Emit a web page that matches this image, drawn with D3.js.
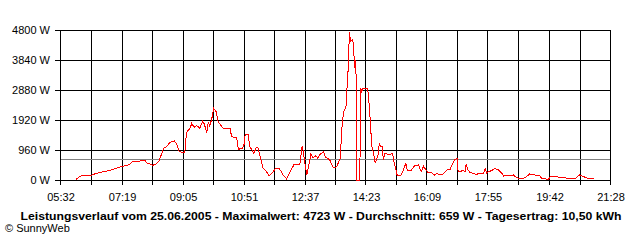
<!DOCTYPE html>
<html>
<head>
<meta charset="utf-8">
<script src="https://cdn.jsdelivr.net/npm/d3@7"></script>
<style>
body { margin: 0; background: #fff; }
text { font-family: "Liberation Sans", Arial, sans-serif; font-size: 11px; fill: #000; }
</style>
</head>
<body>
<svg id="chart" width="640" height="240"></svg>
<script>
var times = ["06:00","06:02","06:08","06:19","06:27","06:32","06:40","06:47","06:56","07:05",
    "07:13","07:19","07:28","07:34","07:38","07:51","08:00","08:03","08:08","08:13",
    "08:19","08:24","08:29","08:32","08:37","08:43","08:51","08:55","08:59","09:04",
    "09:09","09:11","09:13","09:18","09:21","09:25","09:30","09:35","09:40","09:43",
    "09:47","09:50","09:52","09:56","09:59","10:03","10:07","10:11","10:16","10:28",
    "10:30","10:39","10:42","10:49","10:52","10:54","10:59","11:02","11:06","11:09",
    "11:13","11:16","11:20","11:25","11:31","11:35","11:40","11:46","11:53","12:00",
    "12:06","12:12","12:19","12:29","12:33","12:35","12:38","12:41","12:44","12:48",
    "12:52","12:57","13:00","13:04","13:10","13:13","13:21","13:27","13:33","13:39",
    "13:43","13:46","13:49","13:51","13:53","13:55","13:57","14:00","14:02","14:04",
    "14:05","14:07","14:08","14:13","14:15","14:16","14:19","14:25","14:27","14:30",
    "14:32","14:34","14:37","14:40","14:43","14:45","14:47","14:49","14:52","14:54",
    "14:57","15:01","15:06","15:10","15:13","15:16","15:18","15:25","15:29","15:33",
    "15:36","15:42","15:48","15:55","16:00","16:04","16:08","16:12","16:18","16:23",
    "16:27","16:33","16:38","16:44","16:50","16:56","16:59","17:02","17:03","17:04",
    "17:09","17:11","17:16","17:18","17:21","17:25","17:30","17:36","17:39","17:48",
    "17:51","17:54","17:57","18:02","18:08","18:14","18:20","18:23","18:31","18:37",
    "18:40","18:43","18:49","18:57","19:03","19:08","19:15","19:26","19:29","19:41",
    "19:44","19:52","20:04","20:16","20:24","20:27","20:31","20:35","20:42","20:50",
    "21:00"];
var watts = [0,55,128,150,160,192,234,266,298,342,
    394,438,458,512,586,608,618,544,522,470,
    512,600,854,1014,1066,1206,1248,1142,928,886,
    886,1334,1546,1654,1814,1686,1738,1654,1888,1782,
    1514,1866,1706,1974,2294,2208,1866,1760,1654,1654,
    1386,1354,982,1014,1142,1462,1462,1066,960,854,
    1034,1034,746,374,266,138,202,352,374,160,
    32,266,502,502,1090,906,480,160,426,822,
    714,778,694,822,906,746,640,394,426,694,
    1930,2250,2304,2998,3584,4723,4438,4490,4384,3584,
    3840,3264,0,0,2944,2784,2944,2944,2890,2304,
    1664,1078,864,544,704,810,1184,1078,1078,650,
    864,832,822,854,534,320,160,160,320,534,
    298,298,448,480,266,448,320,234,234,160,
    214,160,192,320,342,586,662,694,640,266,
    266,320,266,512,320,234,214,170,214,214,
    374,214,266,298,374,320,214,128,160,128,
    160,106,54,54,106,192,170,128,54,20,
    106,106,86,54,54,32,106,160,106,54,
    32];
var xLabels = ["05:32","07:19","09:05","10:51","12:37","14:23","16:09","17:55","19:42","21:28"];
var yTicks = [0, 960, 1920, 2880, 3840, 4800];
var average = 659;
var title = "Leistungsverlauf vom 25.06.2005 - Maximalwert: 4723 W - Durchschnitt: 659 W - Tagesertrag: 10,50 kWh";
var credit = "\u00a9 SunnyWeb";

var parse = d3.timeParse("%H:%M");
var chart = d3.select("#chart");

var x = d3.scaleTime()
    .domain([parse(xLabels[0]), parse(xLabels[xLabels.length - 1])])
    .range([60, 610]);
var y = d3.scaleLinear().domain([0, 4800]).range([180, 30]);

// one grid line per label plus one half way between two labels
var gridTimes = [];
for (var i = 0; i < xLabels.length; i++) {
    var t = parse(xLabels[i]);
    gridTimes.push(t);
    if (i < xLabels.length - 1) {
        var t2 = parse(xLabels[i + 1]);
        gridTimes.push(new Date((t.getTime() + t2.getTime()) / 2));
    }
}

function px(v) { return Math.round(v) + 0.5; }

var grid = chart.append("g").attr("shape-rendering", "crispEdges");

grid.selectAll(".vline").data(gridTimes).enter().append("line")
    .attr("x1", function(d) { return px(x(d)); })
    .attr("x2", function(d) { return px(x(d)); })
    .attr("y1", 30)
    .attr("y2", 185)
    .style("stroke", "#000");

grid.selectAll(".hline").data(yTicks).enter().append("line")
    .attr("x1", 55)
    .attr("x2", 611)
    .attr("y1", function(d) { return px(y(d)); })
    .attr("y2", function(d) { return px(y(d)); })
    .style("stroke", "#000");

// average line
grid.append("line")
    .attr("x1", 61)
    .attr("x2", 610)
    .attr("y1", px(y(average)))
    .attr("y2", px(y(average)))
    .style("stroke", "#808080");

chart.selectAll(".ylab").data(yTicks).enter().append("text")
    .attr("x", 50)
    .attr("y", function(d) { return y(d) + 4; })
    .style("text-anchor", "end")
    .text(function(d) { return d + " W"; });

chart.selectAll(".xlab").data(xLabels).enter().append("text")
    .attr("x", function(d) { return x(parse(d)) + 1; })
    .attr("y", 201)
    .style("text-anchor", "middle")
    .text(function(d) { return d; });

var points = times.map(function(t, i) { return [parse(t), watts[i]]; });
var line = d3.line()
    .x(function(d) { return x(d[0]); })
    .y(function(d) { return y(d[1]); });

chart.append("path")
    .datum(points)
    .attr("d", line)
    .attr("fill", "none")
    .attr("stroke", "#ff0000")
    .attr("stroke-width", 1)
    .attr("shape-rendering", "crispEdges");

chart.append("text")
    .attr("x", 321)
    .attr("y", 220)
    .style("text-anchor", "middle")
    .style("font-weight", "bold")
    .attr("textLength", 601)
    .attr("lengthAdjust", "spacingAndGlyphs")
    .text(title);

chart.append("text")
    .attr("x", 5)
    .attr("y", 232)
    .text(credit);
</script>
</body>
</html>
